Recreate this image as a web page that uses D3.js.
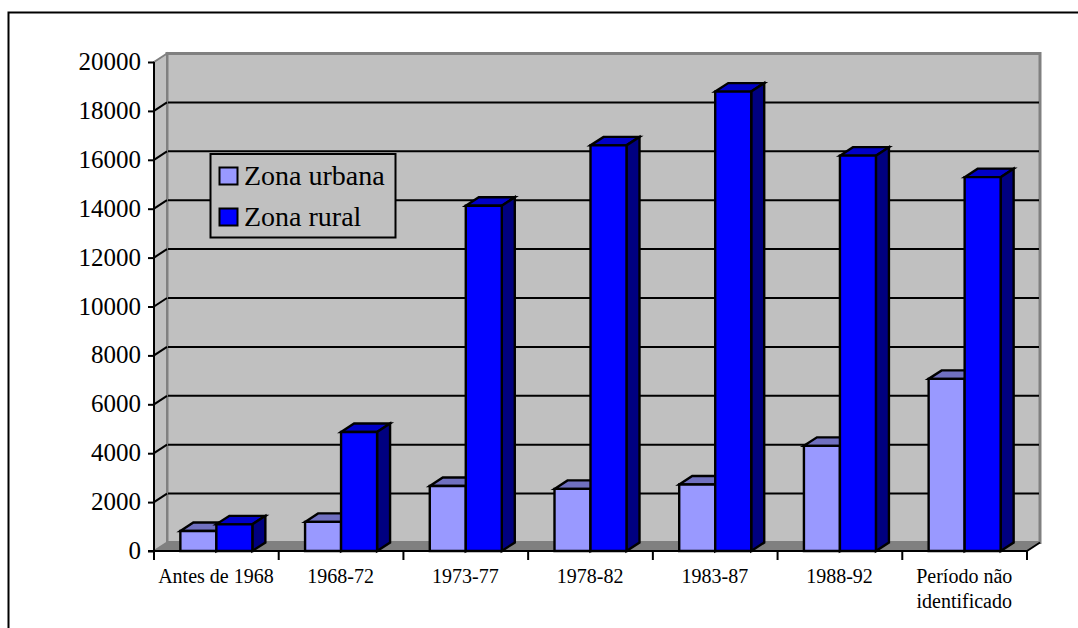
<!DOCTYPE html>
<html><head><meta charset="utf-8">
<script src="https://cdnjs.cloudflare.com/ajax/libs/d3/7.8.5/d3.min.js"></script>
<style>html,body{margin:0;padding:0;background:#fff}svg{display:block}text{font-family:"Liberation Serif",serif;fill:#000}</style>
</head><body><svg id="c" width="1078" height="628"></svg>
<script>
const categories = ["Antes de 1968","1968-72","1973-77","1978-82","1983-87","1988-92","Período não|identificado"];
const zonaUrbana = [820,1190,2660,2540,2720,4300,7040];
const zonaRural = [1090,4870,14120,16590,18790,16170,15290];
const yTicks = [0,2000,4000,6000,8000,10000,12000,14000,16000,18000,20000];
const seriesNames = ["Zona urbana","Zona rural"];
const colors = {urban:{front:"#9999ff",top:"#7070c0",side:"#4d4d80"},rural:{front:"#0000ff",top:"#0000c8",side:"#000080"}};

const svg = d3.select("#c");
const X0=154,X1=1027,Y0=551,Y1=62,DX=13,DY=-8.5,GREY="#808080",WALL="#c0c0c0";
const x = d3.scaleBand().domain(categories).range([X0,X1]);
const y = d3.scaleLinear().domain([0,20000]).range([Y0,Y1]);
const bw = 36;

svg.append("path").attr("d","M8.5,628V12.5H1078").attr("fill","none").attr("stroke","#000").attr("stroke-width",2);

// walls and floor
const poly=(pts,fill,stroke,sw)=>svg.append("polygon").attr("points",pts.map(p=>p.join(",")).join(" ")).attr("fill",fill).attr("stroke",stroke||"none").attr("stroke-width",sw||0);
poly([[X0+DX,Y1+DY],[X1+DX,Y1+DY],[X1+DX,Y0+DY],[X0+DX,Y0+DY]],WALL,GREY,3);
poly([[X0,Y1],[X0+DX,Y1+DY],[X0+DX,Y0+DY],[X0,Y0]],WALL,GREY,2);
poly([[X0,Y0],[X1,Y0],[X1+DX,Y0+DY],[X0+DX,Y0+DY]],GREY);

// gridlines
const grid = yTicks.filter(t=>t>0&&t<20000);
svg.append("g").selectAll("line").data(grid).join("line")
  .attr("x1",X0+DX+1).attr("x2",X1+DX-1).attr("y1",d=>y(d)+DY).attr("y2",d=>y(d)+DY)
  .attr("stroke","#000").attr("stroke-width",2);
svg.append("g").selectAll("line").data(grid).join("line")
  .attr("x1",X0).attr("x2",X0+DX).attr("y1",d=>y(d)).attr("y2",d=>y(d)+DY)
  .attr("stroke","#000").attr("stroke-width",2);
svg.append("line").attr("x1",X1).attr("y1",Y0).attr("x2",X1+DX).attr("y2",Y0+DY).attr("stroke","#000").attr("stroke-width",2);

// bars
function bar(g,left,val,c){
  const t=y(val),r=left+bw;
  const st={stroke:"#000","stroke-width":2.4,"stroke-linejoin":"miter"};
  const add=(pts,f)=>{const p=g.append("polygon").attr("points",pts.map(q=>q.join(",")).join(" ")).attr("fill",f);for(const k in st)p.attr(k,st[k]);};
  add([[left,t],[left+DX,t+DY],[r+DX,t+DY],[r,t]],c.top);
  add([[r,t],[r+DX,t+DY],[r+DX,Y0+DY],[r,Y0]],c.side);
  add([[left,t],[r,t],[r,Y0],[left,Y0]],c.front);
}
categories.forEach((cat,i)=>{
  const g=svg.append("g");
  const cx=x(cat)+x.bandwidth()/2;
  bar(g,cx-bw,zonaUrbana[i],colors.urban);
  bar(g,cx,zonaRural[i],colors.rural);
});

// axes
const ya=svg.append("g").attr("transform",`translate(${X0},0)`)
  .call(d3.axisLeft(y).tickValues(yTicks).tickFormat(d3.format("d")).tickSize(6).tickPadding(7));
ya.select(".domain").attr("stroke-width",2).attr("d",`M0,${Y1}V${Y0}`);
ya.selectAll("line").attr("stroke-width",2);
ya.selectAll("text").attr("font-size",25).attr("font-family","Liberation Serif").attr("dy","0.3em");

const xa=svg.append("g").attr("transform",`translate(0,${Y0})`)
  .call(d3.axisBottom(x).tickSize(0).tickFormat(""));
xa.select(".domain").attr("stroke-width",2).attr("d",`M${X0-6},0H${X1}`);
xa.selectAll(".tick").remove();
xa.selectAll("line.sep").data(d3.range(8)).join("line").attr("class","sep")
  .attr("x1",i=>X0+i*x.bandwidth()).attr("x2",i=>X0+i*x.bandwidth())
  .attr("y1",0).attr("y2",9).attr("stroke","#000").attr("stroke-width",2);
const labels=svg.append("g").attr("font-size",20).attr("text-anchor","middle");
categories.forEach(cat=>{
  const t=labels.append("text").attr("x",x(cat)+x.bandwidth()/2-0.4).attr("y",583);
  cat.split("|").forEach((s,j)=>t.append("tspan").attr("x",x(cat)+x.bandwidth()/2-0.4).attr("dy",j?25:0).text(s));
});

// legend
const lg=svg.append("g");
lg.append("rect").attr("x",210.5).attr("y",154).attr("width",185).attr("height",83.5).attr("fill",WALL).attr("stroke","#000").attr("stroke-width",2);
const keys=[colors.urban.front,colors.rural.front], rowY=[176,217];
seriesNames.forEach((n,i)=>{
  lg.append("rect").attr("x",219.5).attr("y",rowY[i]-8.5).attr("width",18).attr("height",17).attr("fill",keys[i]).attr("stroke","#000").attr("stroke-width",2);
  lg.append("text").attr("x",244).attr("y",rowY[i]+9).attr("font-size",28).text(n);
});
</script></body></html>
